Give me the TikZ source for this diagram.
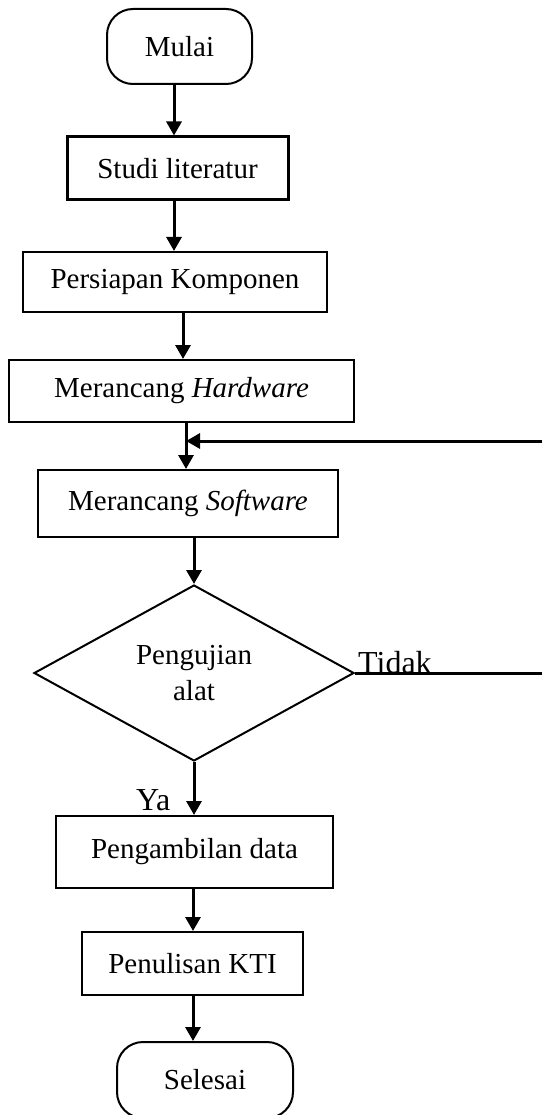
\documentclass[tikz,border=0pt]{standalone}
\usepackage{fontspec}
\setmainfont{Liberation Serif}
\usetikzlibrary{arrows.meta,shapes.geometric}
\begin{document}
\begin{tikzpicture}[x=1pt,y=-1pt,
  txt/.style={font=\fontsize{29}{36}\selectfont},
  procbox/.style={draw,line width=2pt,rectangle,inner sep=0pt,txt},
  termbox/.style={draw,line width=2pt,rectangle,rounded corners=26pt,inner sep=0pt,txt},
  decbox/.style={draw,line width=2pt,diamond,inner sep=0pt,align=center,txt},
  conn/.style={line width=3pt,-{Triangle[length=14pt,width=15pt]}},
  plainline/.style={line width=3pt},
  lbl/.style={font=\fontsize{32}{36}\selectfont,inner sep=0pt,anchor=base west}]
\useasboundingbox (0,0) rectangle (542,1115);
\clip (0,0) rectangle (542,1115);
\node[termbox,minimum width=145pt,minimum height=75pt] (mulai) at (179.5,46.5) {Mulai};
\node[procbox,line width=3pt,minimum width=221pt,minimum height=63pt] (studi) at (177.5,168.5) {Studi literatur};
\node[procbox,minimum width=304pt,minimum height=60pt] (siap) at (175,282) {Persiapan Komponen};
\node[procbox,minimum width=345pt,minimum height=62pt] (hw) at (181.5,391) {Merancang \textit{Hardware}};
\node[procbox,minimum width=300pt,minimum height=67pt] (sw) at (188,503.5) {Merancang \textit{Software}};
\node[decbox,minimum width=320pt,minimum height=176pt] (uji) at (194,673) {Pengujian\\alat};
\node[procbox,minimum width=277pt,minimum height=72pt] (ambil) at (194.5,852) {Pengambilan data};
\node[procbox,minimum width=221pt,minimum height=63pt] (tulis) at (192.5,963.5) {Penulisan KTI};
\node[termbox,minimum width=176pt,minimum height=76pt] (selesai) at (205,1080) {Selesai};
\coordinate (xa) at (174,0);
\coordinate (xb) at (183,0);
\coordinate (xc) at (186,0);
\coordinate (xd) at (193,0);
\coordinate (loopin) at (542,441);
\coordinate (tidakend) at (542,673);
\draw[conn] (mulai.south -| xa) -- (studi.north -| xa);
\draw[conn] (studi.south -| xa) -- (siap.north -| xa);
\draw[conn] (siap.south -| xb) -- (hw.north -| xb);
\draw[conn] (hw.south -| xc) -- (sw.north -| xc);
\draw[conn] (loopin) -- (loopin -| xc);
\draw[conn] (sw.south -| uji.north) -- (uji.north);
\draw[conn] (uji.south) -- (ambil.north -| uji.south);
\draw[conn] (ambil.south -| xd) -- (tulis.north -| xd);
\draw[conn] (tulis.south -| xd) -- (selesai.north -| xd);
\draw[plainline] (uji.east) -- (tidakend);
\node[lbl] (tidak) at (358,673) {Tidak};
\node[lbl] (ya) at (136,810) {Ya};
\end{tikzpicture}
\end{document}
